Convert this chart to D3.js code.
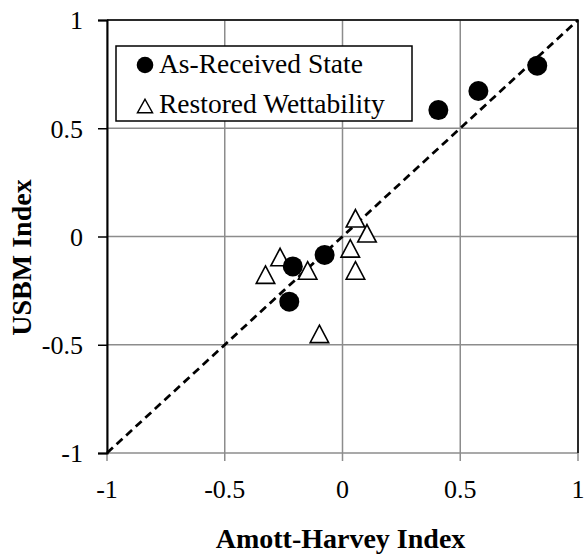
<!DOCTYPE html>
<html>
<head>
<meta charset="utf-8">
<script src="https://cdn.jsdelivr.net/npm/d3@7"></script>
<style>
  body { margin: 0; background: #fff; }
  svg { display: block; font-family: "Liberation Serif", "Times New Roman", serif; }
</style>
</head>
<body>
<div id="chart"></div>
<script>
// As-received state (Amott-Harvey, USBM)
const receivedX = [0.407, 0.577, 0.827, -0.076, -0.211, -0.226];
const receivedY = [0.584, 0.672, 0.789, -0.085, -0.138, -0.301];

// Restored wettability
const restoredX = [0.055, 0.104, 0.033, 0.055, -0.265, -0.148, -0.327, -0.098];
const restoredY = [0.084, 0.015, -0.055, -0.157, -0.095, -0.157, -0.176, -0.450];

const tickValues = [-1, -0.5, 0, 0.5, 1];
const legendLabels = ["As-Received State", "Restored Wettability"];
const xTitle = "Amott-Harvey Index";
const yTitle = "USBM Index";

const W = 584, H = 554;
const margin = {top: 20, right: 6, bottom: 101, left: 107};

const fmt = d => String(d); // plain hyphen like the original

const svg = d3.select("#chart")
    .append("svg")
        .attr("width", W)
        .attr("height", H);

const x = d3.scaleLinear()
    .domain([-1, 1])
    .range([margin.left, W - margin.right]);

const y = d3.scaleLinear()
    .domain([-1, 1])
    .range([H - margin.bottom, margin.top]);

const gridColor = "#8c8c8c";

// triangle marker, centred on its bounding box
const trianglePath = (w, h) => {
    const p = d3.path();
    p.moveTo(0, -h / 2);
    p.lineTo(w / 2, h / 2);
    p.lineTo(-w / 2, h / 2);
    p.closePath();
    return p.toString();
};

// grid
svg.selectAll(".vgrid")
    .data(tickValues)
    .join("line")
        .attr("class", "vgrid")
        .attr("x1", d => x(d)).attr("x2", d => x(d))
        .attr("y1", y(1)).attr("y2", y(-1) + 8)
        .attr("stroke", gridColor)
        .attr("stroke-width", 1.5);

svg.selectAll(".hgrid")
    .data(tickValues)
    .join("line")
        .attr("class", "hgrid")
        .attr("x1", x(-1)).attr("x2", x(1))
        .attr("y1", d => y(d)).attr("y2", d => y(d))
        .attr("stroke", gridColor)
        .attr("stroke-width", 1.5);

// top and right border
svg.append("path")
    .attr("d", `M${x(-1)},${y(1)}H${x(1)}V${y(-1)}`)
    .attr("fill", "none")
    .attr("stroke", "#000")
    .attr("stroke-width", 1.5);

// left axis
const yAxis = svg.append("g")
    .attr("transform", `translate(${x(-1)},0)`)
    .call(d3.axisLeft(y).tickValues(tickValues).tickSize(9).tickPadding(15).tickFormat(fmt));
yAxis.attr("font-family", null);
yAxis.select(".domain").attr("stroke", "#000").attr("stroke-width", 2);
yAxis.selectAll(".tick line").attr("stroke", "#000").attr("stroke-width", 1.5);
yAxis.selectAll(".tick text")
    .style("font-size", "26px")
    .attr("dy", "0.34em")
    .attr("fill", "#000");

// bottom tick labels
svg.selectAll(".xlab")
    .data(tickValues)
    .join("text")
        .attr("class", "xlab")
        .attr("x", d => x(d))
        .attr("y", y(-1) + 45)
        .attr("text-anchor", "middle")
        .style("font-size", "26px")
        .text(fmt);

// 1:1 line
svg.append("line")
    .attr("x1", x(-1)).attr("y1", y(-1))
    .attr("x2", x(1)).attr("y2", y(1))
    .attr("stroke", "#000")
    .attr("stroke-width", 2.75)
    .attr("stroke-dasharray", "8,5");

// restored wettability triangles
svg.selectAll(".restored")
    .data(restoredX.map((v, i) => [v, restoredY[i]]))
    .join("path")
        .attr("class", "restored")
        .attr("d", trianglePath(18.5, 17.5))
        .attr("transform", d => `translate(${x(d[0])},${y(d[1])})`)
        .attr("fill", "#fff")
        .attr("stroke", "#000")
        .attr("stroke-width", 1.6);

// as-received circles
svg.selectAll(".received")
    .data(receivedX.map((v, i) => [v, receivedY[i]]))
    .join("circle")
        .attr("class", "received")
        .attr("cx", d => x(d[0]))
        .attr("cy", d => y(d[1]))
        .attr("r", 10)
        .attr("fill", "#000");

// legend
const legend = svg.append("g");
legend.append("rect")
    .attr("x", 116).attr("y", 46)
    .attr("width", 296).attr("height", 75)
    .attr("fill", "#fff")
    .attr("stroke", "#000")
    .attr("stroke-width", 1.5);

legend.append("circle")
    .attr("cx", 145).attr("cy", 65)
    .attr("r", 8.3)
    .attr("fill", "#000");

legend.append("path")
    .attr("d", trianglePath(15, 13.5))
    .attr("transform", "translate(145,106)")
    .attr("fill", "#fff")
    .attr("stroke", "#000")
    .attr("stroke-width", 1.5);

legend.selectAll(".legend-label")
    .data(legendLabels)
    .join("text")
        .attr("class", "legend-label")
        .attr("x", 159)
        .attr("y", (d, i) => 73 + i * 40)
        .style("font-size", "27.5px")
        .text(d => d);

// axis titles
svg.append("text")
    .attr("x", x(0) - 2)
    .attr("y", 548)
    .attr("text-anchor", "middle")
    .style("font-size", "28px")
    .style("font-weight", 700)
    .text(xTitle);

svg.append("text")
    .attr("transform", `translate(31,${y(0) + 21}) rotate(-90)`)
    .attr("text-anchor", "middle")
    .style("font-size", "28px")
    .style("font-weight", 700)
    .text(yTitle);
</script>
</body>
</html>
